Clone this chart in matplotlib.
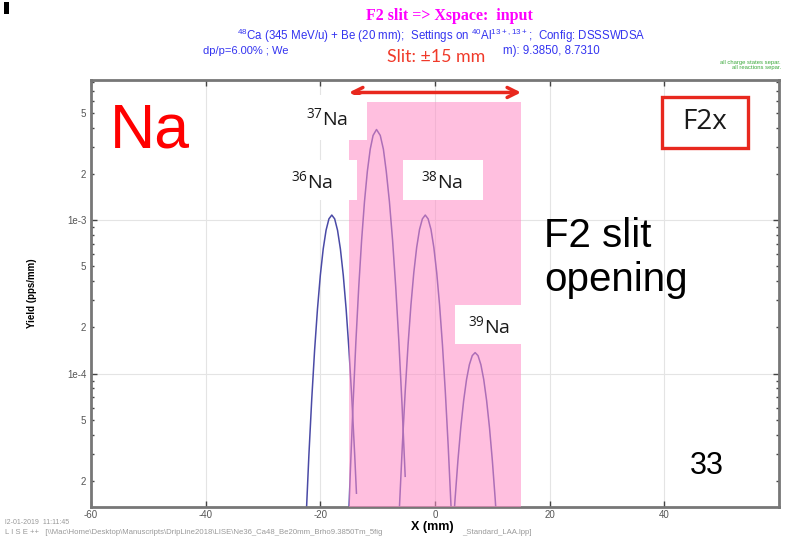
import matplotlib
matplotlib.use("Agg")
import matplotlib.pyplot as plt
from matplotlib.patches import Rectangle
from matplotlib.ticker import FixedLocator, LogLocator, FuncFormatter
import numpy as np

# Yield distributions (pps/mm) against X at the F2 slit
na36_x = [-22.6, -22.0, -21.5, -21.0, -20.5, -20.0, -19.5, -19.0, -18.5, -18.0,
          -17.5, -17.0, -16.5, -16.0, -15.5, -15.0, -14.5, -14.0, -13.7]
na36_y = [9.1e-6, 2.92e-5, 6.8e-5, 1.42e-4, 2.63e-4, 4.38e-4, 6.49e-4, 8.6e-4, 1.02e-3, 1.08e-3,
          1.02e-3, 8.6e-4, 6.49e-4, 4.38e-4, 2.63e-4, 1.42e-4, 6.8e-5, 2.92e-5, 1.66e-5]

na37_x = [-15.2, -14.8, -14.3, -13.8, -13.3, -12.8, -12.3, -11.8, -11.3, -10.8, -10.2,
          -9.55, -9.0, -8.5, -7.95, -7.4, -6.85, -6.3, -5.75, -5.2]
na37_y = [8.3e-6, 2.14e-5, 6.25e-5, 1.61e-4, 3.67e-4, 7.4e-4, 1.32e-3, 2.08e-3, 2.9e-3, 3.57e-3, 3.9e-3,
          3.57e-3, 2.9e-3, 2.08e-3, 1.32e-3, 7.4e-4, 3.67e-4, 1.61e-4, 6.25e-5, 2.14e-5]

na38_x = [-6.4, -6.2, -5.7, -5.2, -4.7, -4.2, -3.7, -3.2, -2.7, -2.2, -1.7,
          -1.2, -0.7, -0.2, 0.3, 0.8, 1.3, 1.8, 2.3, 2.8, 3.0]
na38_y = [9.0e-6, 1.35e-5, 3.38e-5, 7.61e-5, 1.54e-4, 2.79e-4, 4.54e-4, 6.63e-4, 8.7e-4, 1.02e-3, 1.08e-3,
          1.02e-3, 8.7e-4, 6.63e-4, 4.54e-4, 2.79e-4, 1.54e-4, 7.61e-5, 3.38e-5, 1.35e-5, 9.0e-6]

na39_x = [3.2, 3.5, 4.0, 4.5, 5.0, 5.5, 6.0, 6.5, 7.0, 7.5, 8.0, 8.5, 9.0, 9.5, 10.0, 10.5, 10.8]
na39_y = [1.03e-5, 1.52e-5, 2.72e-5, 4.46e-5, 6.68e-5, 9.15e-5, 1.145e-4, 1.31e-4, 1.37e-4,
          1.31e-4, 1.145e-4, 9.15e-5, 6.68e-5, 4.46e-5, 2.72e-5, 1.52e-5, 1.03e-5]

slit = 15.0
x_ticks = [-60, -40, -20, 0, 20, 40]

W, H = 785, 543
fig = plt.figure(figsize=(W / 100, H / 100), dpi=100)
ax = fig.add_axes([91 / W, 1 - 507 / H, (779 - 91) / W, (507 - 80) / H])


def px(x, y):
    # pixel position -> figure fraction
    return x / W, 1 - y / H


def box(x0, y0, x1, y1, z=5, edge="none", lw=0):
    fx, fy = px(x0, y1)
    fig.patches.append(Rectangle((fx, fy), (x1 - x0) / W, (y1 - y0) / H, transform=fig.transFigure,
                                 facecolor="white", edgecolor=edge, lw=lw, zorder=z))


line_col = "#4a4aa6"
for xs, ys in [(na36_x, na36_y), (na37_x, na37_y), (na38_x, na38_y), (na39_x, na39_y)]:
    ax.plot(xs, ys, color=line_col, lw=1.1, zorder=2)

ax.set_yscale("log")
ax.set_xlim(-60, 60)
ax.set_ylim(1.35e-5, 8.2e-3)

# slit opening shaded on top of the curves
ax.add_patch(Rectangle((-slit, 1e-6), 2 * slit, 5.9e-3 - 1e-6, facecolor="#ff8cc6",
                       alpha=0.55, edgecolor="none", zorder=3))
ax.annotate("", xy=(-slit, 6.8e-3), xytext=(slit, 6.8e-3),
            arrowprops=dict(arrowstyle="<->", color="#e8281e", lw=2.5, mutation_scale=18,
                            shrinkA=0, shrinkB=0), zorder=4)

# axes decoration
ax.set_xticks(x_ticks)
ax.set_xticklabels([str(t) for t in x_ticks])
ax.yaxis.set_major_locator(FixedLocator([1e-5, 1e-4, 1e-3, 1e-2]))
ax.yaxis.set_major_formatter(FuncFormatter(lambda v, p: "1e%d" % round(np.log10(v))))
ax.yaxis.set_minor_locator(LogLocator(base=10, subs=range(2, 10), numticks=20))


def minor_fmt(v, p):
    m = v / 10 ** np.floor(np.log10(v) + 1e-9)
    m = round(m)
    return str(m) if m in (2, 5) else ""


ax.yaxis.set_minor_formatter(FuncFormatter(minor_fmt))
ax.tick_params(which="both", direction="in", top=True, right=True, colors="#444444",
               labelcolor="#555555", labelsize=7)
ax.tick_params(which="major", length=4, width=1)
ax.tick_params(which="minor", length=2.5, width=1)
ax.tick_params(axis="y", pad=3)
ax.tick_params(axis="x", pad=2)
for lab in ax.get_xticklabels() + ax.get_yticklabels() + ax.get_yticklabels(minor=True):
    lab.set_fontfamily("Liberation Sans")
for s in ax.spines.values():
    s.set_color("#777777")
    s.set_linewidth(2)
ax.grid(True, which="major", color="#e4e4e4", lw=0.8)
ax.set_axisbelow(True)

ax.set_ylabel("Yield (pps/mm)", fontsize=7, fontweight="bold", family="Liberation Sans", labelpad=22)

# run info along the bottom
fig.text(*px(5, 522), "l2-01-2019  11:11:45", color="#999999", fontsize=5, family="Liberation Sans",
         va="center")
fig.text(*px(5, 532), "L I S E ++   [\\\\Mac\\Home\\Desktop\\Manuscripts\\DripLine2018\\LISE\\Ne36_Ca48_Be20mm"
         "_Brho9.3850Tm_5fig", color="#999999", fontsize=5.6,
         family="Liberation Sans", va="center")
fig.text(*px(462, 532), "_Standard_LAA.lpp]", color="#999999", fontsize=5.6,
         family="Liberation Sans", va="center")
fig.text(*px(432, 527), "X (mm)", fontsize=9, fontweight="bold", family="Liberation Sans",
         ha="center", va="center", zorder=7)

# header lines
plt.rcParams["mathtext.default"] = "regular"
fig.text(*px(449, 16), "F2 slit => Xspace:  input", color="#ff00ff", fontsize=11.5,
         fontweight="bold", family="Liberation Serif", ha="center", va="center")
fig.text(*px(441, 36), r"$^{48}$Ca (345 MeV/u) + Be (20 mm);  Settings on $^{40}$Al$^{13+,13+}$;  Config: DSSSWDSA",
         color="#3434f0", fontsize=8.3, family="Liberation Sans", ha="center", va="center")
fig.text(*px(203, 51), "dp/p=6.00% ; We", color="#3434f0", fontsize=8.0,
         family="Liberation Sans", ha="left", va="center")
fig.text(*px(600, 51), "m): 9.3850, 8.7310", color="#3434f0", fontsize=8.3,
         family="Liberation Sans", ha="right", va="center")
fig.text(*px(436, 57), "Slit: ±15 mm", color="#f03a2a", fontsize=12.8, family="Lato",
         ha="center", va="center", zorder=6)
fig.text(*px(781, 65), "all charge states separ.\nall reactions separ.", color="#3aa83a",
         fontsize=4.2, family="Liberation Sans", ha="right", va="center", linespacing=0.9)
fig.patches.append(Rectangle(px(4, 14), 5 / W, 12 / H, transform=fig.transFigure,
                             facecolor="black", edgecolor="none"))

# isotope labels on white boxes
labels = [(r"$^{37}$Na", 297, 95, 367, 140, 327, 118),
          (r"$^{36}$Na", 280, 160, 357, 200, 312, 181),
          (r"$^{38}$Na", 403, 160, 483, 200, 442, 181),
          (r"$^{39}$Na", 455, 305, 521, 344, 489, 326)]
for txt, x0, y0, x1, y1, tx, ty in labels:
    box(x0, y0, x1, y1)
    fig.text(*px(tx, ty), txt, fontsize=14, family="Open Sans", color="#1a1a1a",
             ha="center", va="center", zorder=6)

fig.text(*px(150, 131), "Na", color="#ff0000", fontsize=45, family="Liberation Sans",
         ha="center", va="center", zorder=6)
box(662, 97, 748, 148, edge="#e8281e", lw=2.4)
fig.text(*px(705, 122), "F2x", color="#1a1a1a", fontsize=20, family="Open Sans",
         ha="center", va="center", zorder=6)
fig.text(*px(544, 258), "F2 slit\nopening", color="black", fontsize=29, family="Liberation Sans",
         ha="left", va="center", linespacing=1.2, zorder=6)
fig.text(*px(707, 466), "33", color="black", fontsize=22, family="Liberation Sans",
         ha="center", va="center", zorder=6)

fig.savefig("out.png", dpi=100)
